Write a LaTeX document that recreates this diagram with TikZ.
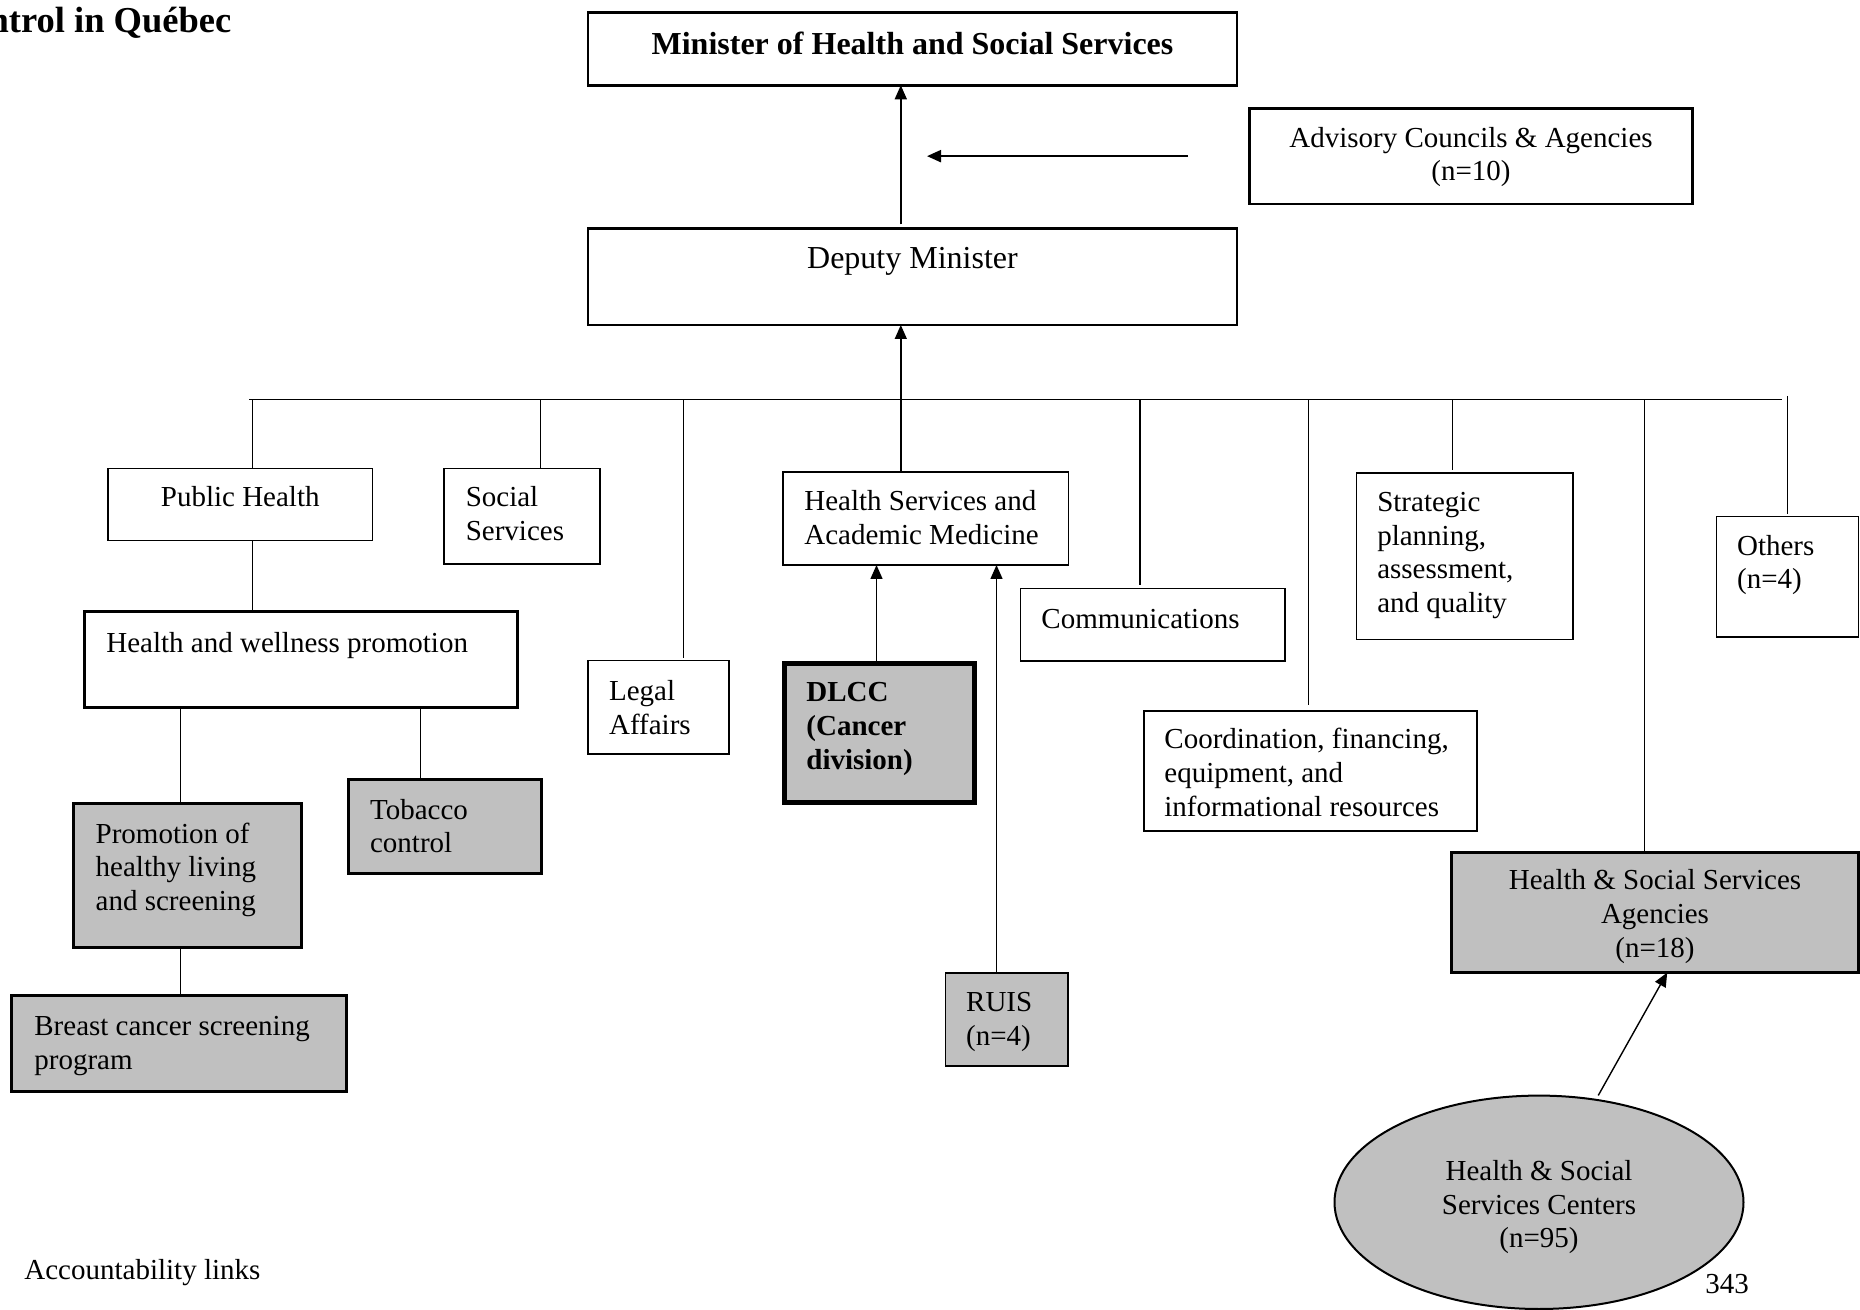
\documentclass[tikz,border=0pt]{standalone}
\usepackage{fontspec}
\setmainfont{Liberation Serif}
\usetikzlibrary{arrows.meta,calc,fit,shapes.geometric}
\definecolor{boxgray}{RGB}{192,192,192}
\newcommand{\bodyfont}{\fontsize{14.5pt}{16.9pt}\selectfont}
\newcommand{\headfont}{\fontsize{16pt}{18.6pt}\selectfont}

\begin{document}
\begin{tikzpicture}[x=0.5pt,y=-0.5pt,
  link/.style={line width=0.7pt},
  uparrow/.style={line width=0.7pt,-{Triangle[length=7pt,width=6pt]}},
  gap/.style={shorten >=1.5pt},
  thinbox/.style={draw,line width=0.8pt,inner sep=0pt,outer sep=0pt},
  midbox/.style={draw,line width=1.3pt,inner sep=0pt,outer sep=0pt},
  heavybox/.style={draw,line width=1.5pt,inner sep=0pt,outer sep=0pt},
  shaded/.style={fill=boxgray},
  lbl/.style={inner sep=0pt,anchor=north west,align=left,font=\bodyfont},
  clbl/.style={inner sep=0pt,anchor=north,align=center,font=\bodyfont},
  plain/.style={inner sep=0pt,anchor=base west,font=\bodyfont},
]
% page
\path[fill=white,use as bounding box] (0,0) rectangle (1860,1310);

% heading and footer texts
\node[inner sep=0pt,anchor=base west,font=\fontsize{18.25pt}{21pt}\selectfont\bfseries] (title) at (-11.7,32.7) {ntrol in Québec};
\node[plain] (footer) at (24,1279) {Accountability links};
\node[plain] (pagenum) at (1705,1293) {343};

% top of the hierarchy
\node[midbox,fit={(588,12.7) (1237,85.3)}] (min) {};
\node[clbl,font=\headfont\bfseries] (min-t) at ($(min.north)+(0,15.3)$) {\strut Minister of Health and Social Services};
\node[midbox,fit={(1249.4,108.3) (1692.7,204)}] (adv) {};
\node[clbl] (adv-t) at ($(adv.north)+(0,14.7)$) {\strut Advisory Councils \& Agencies\\(n=10)};
\node[midbox,fit={(588,228.3) (1237,325)}] (dep) {};
\node[clbl,font=\headfont] (dep-t) at ($(dep.north)+(0,14)$) {\strut Deputy Minister};

% directorates
\node[thinbox,fit={(108,468.6) (372.5,540.5)}] (ph) {};
\node[clbl] (ph-t) at ($(ph.north)+(0,14.3)$) {\strut Public Health};
\node[thinbox,fit={(444,468.6) (600,564.3)}] (ss) {};
\node[lbl] (ss-t) at ($(ss.north west)+(21.4,14)$) {\strut Social\\Services};
\node[thinbox,fit={(783,472) (1068.5,565)}] (hs) {};
\node[lbl] (hs-t) at ($(hs.north west)+(21,14.6)$) {\strut Health Services and\\Academic Medicine};
\node[thinbox,fit={(1356.6,473.3) (1573.2,639.7)}] (sp) {};
\node[lbl] (sp-t) at ($(sp.north west)+(20.3,13.9)$) {\strut Strategic\\planning,\\assessment,\\and quality};
\node[thinbox,fit={(1716.4,516.7) (1858.5,637)}] (ot) {};
\node[lbl] (ot-t) at ($(ot.north west)+(20.3,14.4)$) {\strut Others\\(n=4)};
\node[thinbox,fit={(1020.3,588.5) (1284.7,661)}] (co) {};
\node[lbl] (co-t) at ($(co.north west)+(20.7,15.5)$) {\strut Communications};
\node[thinbox,fit={(588,660.7) (729,754)}] (la) {};
\node[lbl] (la-t) at ($(la.north west)+(20.7,15.6)$) {\strut Legal\\Affairs};
\node[thinbox,fit={(1143.7,710.8) (1476.7,831.2)}] (cf) {};
\node[lbl] (cf-t) at ($(cf.north west)+(20.3,14.1)$) {\strut Coordination, financing,\\equipment, and\\informational resources};

% public health branch
\node[heavybox,fit={(84,612) (517,708)}] (hwp) {};
\node[lbl] (hwp-t) at ($(hwp.north west)+(22,16)$) {\strut Health and wellness promotion};
\node[heavybox,shaded,fit={(73.5,803.7) (301,947.4)}] (pr) {};
\node[lbl] (pr-t) at ($(pr.north west)+(21.8,15.3)$) {\strut Promotion of\\healthy living\\and screening};
\node[heavybox,shaded,fit={(348,779.4) (541,873.2)}] (tc) {};
\node[lbl] (tc-t) at ($(tc.north west)+(21.7,15.7)$) {\strut Tobacco\\control};
\node[heavybox,shaded,fit={(11.5,995.4) (346.4,1091)}] (bc) {};
\node[lbl] (bc-t) at ($(bc.north west)+(22.5,16)$) {\strut Breast cancer screening\\program};

% cancer division and university networks
\node[draw,line width=2.5pt,inner sep=0pt,outer sep=0pt,shaded,fit={(784.5,663.2) (974.5,802.5)}] (dl) {};
\node[lbl,font=\bodyfont\bfseries] (dl-t) at ($(dl.north west)+(21.5,14.4)$) {\strut DLCC\\(Cancer\\division)};
\node[thinbox,shaded,fit={(945.4,972.7) (1068,1066)}] (ru) {};
\node[lbl] (ru-t) at ($(ru.north west)+(20.4,15.2)$) {\strut RUIS\\(n=4)};

% regional network
\node[midbox,shaded,fit={(1451.5,852.2) (1858.5,972.6)}] (hssa) {};
\node[clbl] (hssa-t) at ($(hssa.north)+(0,13.4)$) {\strut Health \& Social Services\\Agencies\\(n=18)};
\node[ellipse,draw,line width=1pt,shaded,inner sep=0pt,outer sep=0pt,
      minimum width=204.5pt,minimum height=106.7pt] (hssc) at (1539,1202.3) {};
\node[clbl] (hssc-t) at ($(hssc.center)+(0,-46)$) {\strut Health \& Social\\Services Centers\\(n=95)};

% the common bus and its taps
\coordinate (busL) at (249,399.3);
\coordinate (busR) at (1781.7,399.3);
\coordinate (t-ph) at (252.7,399.3);
\coordinate (t-ss) at (540.5,399.3);
\coordinate (t-la) at (683.7,399.3);
\coordinate (t-hs) at (900.8,399.3);
\coordinate (t-co) at (1140,399.3);
\coordinate (t-cf) at (1308.5,399.3);
\coordinate (t-sp) at (1452.5,399.3);
\coordinate (t-hssa) at (1644.4,399.3);
\coordinate (t-ot) at (1787.7,396);

\draw[link] (busL) -- (busR);
\draw[link] (t-ph) -- (ph.north -| t-ph);
\draw[link] (t-ss) -- (ss.north -| t-ss);
\draw[link,gap] (t-la) -- (la.north -| t-la);
\draw[link] (t-hs) -- (hs.north -| t-hs);
\draw[link,gap] (t-co) -- (co.north -| t-co);
\draw[link,shorten >=3pt] (t-cf) -- (cf.north -| t-cf);
\draw[link,gap] (t-sp) -- (sp.north -| t-sp);
\draw[link] (t-hssa) -- (hssa.north -| t-hssa);
\draw[link,gap] (t-ot) -- (ot.north -| t-ot);

% reporting lines upwards
\draw[uparrow] (t-hs) -- (dep.south -| t-hs);
\draw[uparrow,shorten <=2pt] (dep.north -| t-hs) -- (min.south -| t-hs);
\coordinate (adv-tail) at ($(adv.west)+(-61.4,0)$);
\coordinate (adv-tip) at ($(adv-tail -| t-hs)+(26.2,0)$);
\draw[line width=1.1pt,-{Triangle[length=7pt,width=6pt]}] (adv-tail) -- (adv-tip);

% public health branch links
\coordinate (j-pr) at ($(hwp.south west)+(96.7,0)$);
\coordinate (j-tc) at ($(hwp.south west)+(336.3,0)$);
\draw[link] (ph.south -| t-ph) -- (hwp.north -| t-ph);
\draw[link] (j-pr) -- (j-pr |- pr.north);
\draw[link] (j-tc) -- (j-tc |- tc.north);
\draw[link] (pr.south -| j-pr) -- (bc.north -| j-pr);

% links into Health Services and Academic Medicine
\coordinate (j-dl) at ($(dl.north west)+(92,0)$);
\coordinate (j-ru) at ($(ru.north west)+(51.1,0)$);
\draw[uparrow] (j-dl) -- (j-dl |- hs.south);
\draw[uparrow] (j-ru) -- (j-ru |- hs.south);

% centers report to agencies
\draw[uparrow,shorten <=2.5pt] (hssc.61) -- ($(hssa.south west)!0.53!(hssa.south east)$);
\end{tikzpicture}
\end{document}
